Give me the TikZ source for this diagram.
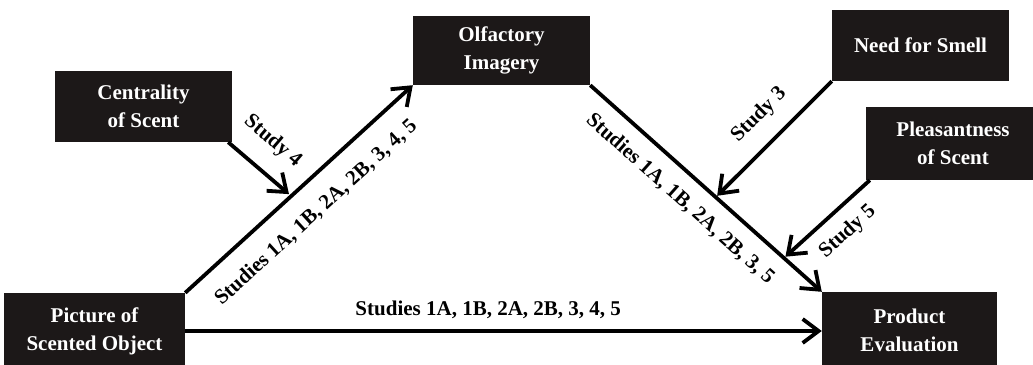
\documentclass[tikz,border=0pt]{standalone}
\usepackage{fontspec}
\setmainfont{Liberation Serif}
\usetikzlibrary{arrows.meta,positioning}
\definecolor{boxfill}{HTML}{1C1818}

\begin{document}
\begin{tikzpicture}[
    x=1pt, y=-1pt,
    box/.style={fill=boxfill,text=white,align=center,inner sep=0pt,minimum width=177pt,minimum height=71pt,font=\fontsize{21}{28}\selectfont\bfseries}, % black boxes
    lbl/.style={font=\fontsize{21}{24}\selectfont\bfseries,inner sep=1pt},
    arrow/.style={-{Straight Barb[length=16pt,width=24pt]},line width=3.8pt}
]
\useasboundingbox (0,0) rectangle (1033,364);

% Boxes
\node[box] (cen) at (143.5,106.5) {Centrality\\of Scent};
\node[box,minimum height=69pt] (olf) at (501.5,50.5) {Olfactory\\Imagery};
\node[box] (need) at (920.5,45.5) {Need for Smell};
\node[box,minimum width=174pt,minimum height=73pt] (ple) at (953,143.5) {Pleasantness\\of Scent};
\node[box,minimum width=181pt,minimum height=76pt] (pic) at (94.5,331) {Picture of\\Scented Object};
\node[box,minimum width=175pt,minimum height=76pt] (prod) at (909.5,330) {Product\\Evaluation};

% Main paths
\draw[arrow] (pic.north east) -- node[lbl,sloped,below=17pt,pos=0.49] {Studies 1A, 1B, 2A, 2B, 3, 4, 5}
    coordinate[pos=0.466] (m1) (olf.south west);
\draw[arrow] (olf.south east) -- node[lbl,sloped,below=13pt,pos=0.46] {Studies 1A, 1B, 2A, 2B, 3, 5}
    coordinate[pos=0.542] (m2) coordinate[pos=0.8365] (m3) (prod.north west);
\draw[arrow] (pic.east) -- node[lbl,above=9pt,pos=0.476] {Studies 1A, 1B, 2A, 2B, 3, 4, 5} (pic.east -| prod.west);

% Moderators
\draw[arrow,shorten >=3pt] ([xshift=-4pt]cen.south east) -- node[lbl,sloped,above=17pt,pos=0.4] {Study 4} (m1);
\draw[arrow,shorten >=2pt] (need.south west) -- node[lbl,sloped,above=15pt,pos=0.46] {Study 3} (m2);
\draw[arrow,shorten >=2pt] ([xshift=4pt]ple.south west) -- node[lbl,sloped,below=11pt,pos=0.44] {Study 5} (m3);

\end{tikzpicture}
\end{document}
